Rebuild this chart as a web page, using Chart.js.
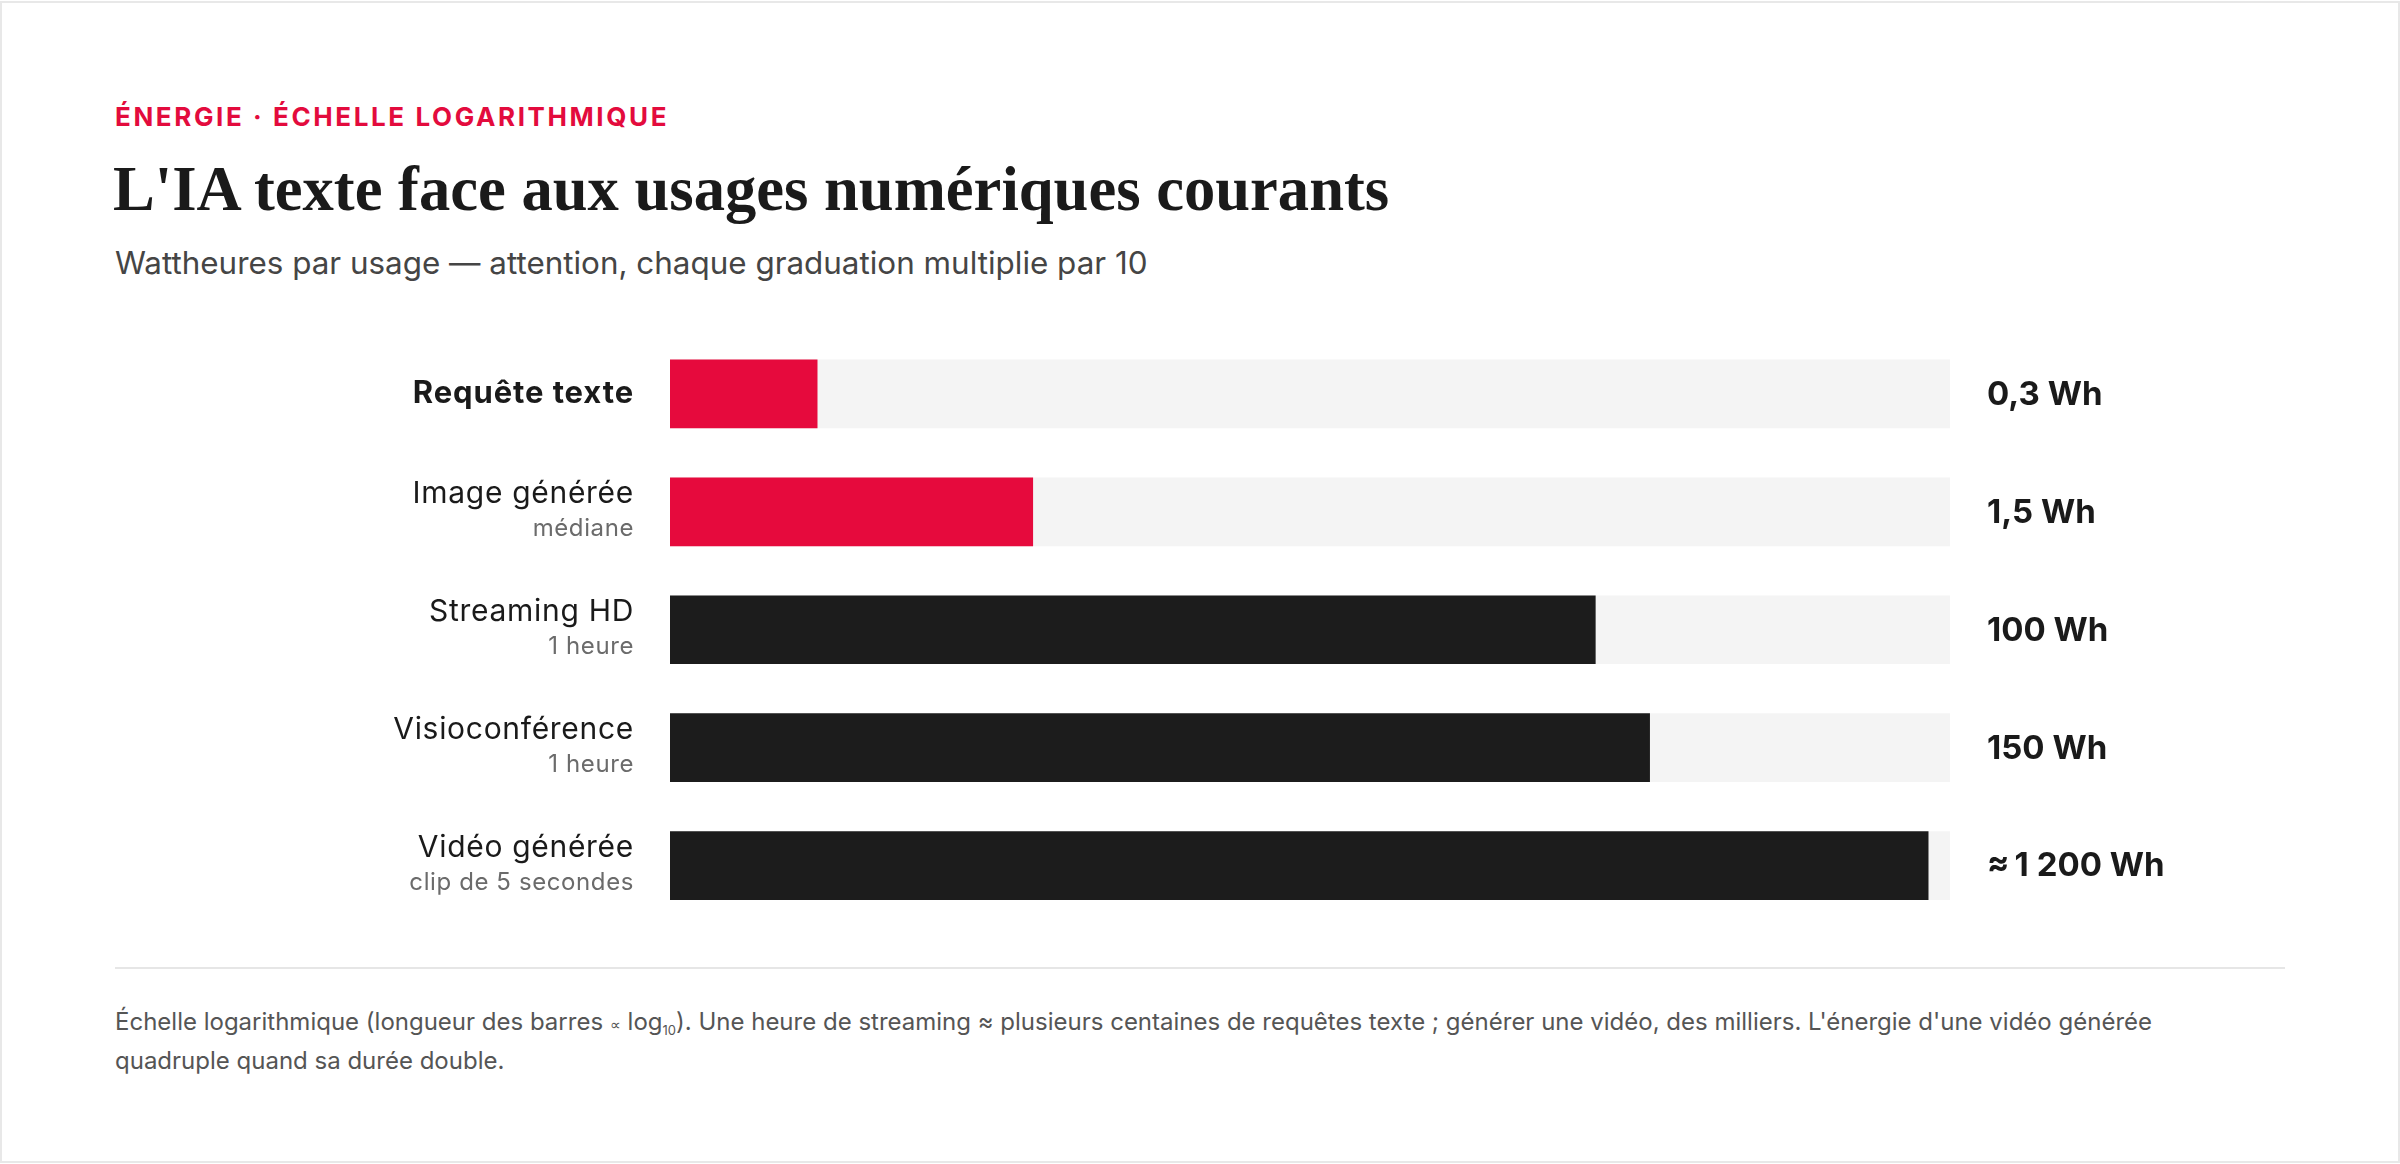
<!DOCTYPE html>
<html lang="fr">
<head>
<meta charset="utf-8">
<script src="https://cdn.jsdelivr.net/npm/chart.js@4/dist/chart.umd.min.js"></script>
<style>
  html, body { margin: 0; padding: 0; background: #fff; }
  body { width: 2400px; height: 1164px; position: relative; overflow: hidden; font-family: "Inter", "Noto Sans", sans-serif; }
  .card { position: absolute; left: 0; top: 1px; width: 2400px; height: 1162px; box-sizing: border-box; border: 2px solid #e8e8e8; }
  .eyebrow { position: absolute; left: 115px; top: 104px; font-size: 26px; line-height: 26px; font-weight: 700; letter-spacing: 2.6px; color: #e30b3d; white-space: nowrap; }
  .title { position: absolute; left: 113px; top: 158px; font-family: "Liberation Serif", "DejaVu Serif", serif; font-weight: 700; font-size: 62.6px; line-height: 63px; color: #1a1a1a; white-space: nowrap; }
  .subtitle { position: absolute; left: 115px; top: 246px; font-size: 31.4px; line-height: 34px; color: #454545; white-space: nowrap; }
  .chartbox { position: absolute; left: 0; top: 300px; width: 2400px; height: 660px; }
  .rule { position: absolute; left: 115px; top: 967px; width: 2170px; height: 2px; background: #e6e6e6; }
  .note { position: absolute; left: 115px; top: 1002px; width: 2180px; font-size: 24px; line-height: 39px; color: #555; }
  .note sub { font-size: 13px; line-height: 0; vertical-align: baseline; position: relative; top: 5px; }
  .note .prop { font-size: 15px; line-height: 0; }
</style>
</head>
<body>
<div class="card"></div>
<div class="eyebrow">ÉNERGIE · ÉCHELLE LOGARITHMIQUE</div>
<div class="title">L'IA texte face aux usages numériques courants</div>
<div class="subtitle">Wattheures par usage — attention, chaque graduation multiplie par 10</div>
<div class="chartbox"><canvas id="c"></canvas></div>
<div class="rule"></div>
<div class="note">Échelle logarithmique (longueur des barres <span class="prop">∝</span> log<sub>10</sub>). Une heure de streaming ≈ plusieurs centaines de requêtes texte ; générer une vidéo, des milliers. L'énergie d'une vidéo générée<br>quadruple quand sa durée double.</div>
<script>
// ---- Data ----
const categories = ['Requête texte', 'Image générée', 'Streaming HD', 'Visioconférence', 'Vidéo générée'];
const subLabels = ['', 'médiane', '1 heure', '1 heure', 'clip de 5 secondes'];
const energyWh = [0.3, 1.5, 100, 150, 1200];
const valueLabels = ['0,3 Wh', '1,5 Wh', '100 Wh', '150 Wh', '≈\u20091 200 Wh'];
const axisMinWh = 0.1;
const axisMaxWh = 1412.5;

// ---- Styles ----
const RED = '#e60a3d';
const INK = '#1c1c1c';
const TRACK = '#f4f4f4';
const FONT = 'Inter, "Noto Sans", sans-serif';

const labelPlugin = {
  id: 'rowLabels',
  afterDatasetsDraw(chart) {
    const ctx = chart.ctx;
    const y = chart.scales.y;
    const area = chart.chartArea;
    ctx.save();
    categories.forEach((name, i) => {
      const cy = y.getPixelForValue(i);
      ctx.textAlign = 'right';
      ctx.textBaseline = 'alphabetic';
      ctx.fillStyle = '#1a1a1a';
      const lx = area.left - 36;
      if (i === 0) {
        ctx.font = '700 31px ' + FONT;
        ctx.letterSpacing = '0.9px';
      } else {
        ctx.font = '400 30px ' + FONT;
        ctx.letterSpacing = '0.7px';
      }
      if (subLabels[i]) {
        ctx.fillText(name, lx, cy - 9);
        ctx.font = '400 24px ' + FONT;
        ctx.letterSpacing = '0.6px';
        ctx.fillStyle = '#6b6b6b';
        ctx.fillText(subLabels[i], lx, cy + 24);
      } else {
        ctx.textBaseline = 'middle';
        ctx.fillText(name, lx, cy);
      }
      ctx.letterSpacing = '0px';
      ctx.textAlign = 'left';
      ctx.textBaseline = 'middle';
      ctx.fillStyle = '#1a1a1a';
      ctx.font = '700 33px ' + FONT;
      ctx.fillText(valueLabels[i], area.right + 37, cy + 1);
    });
    ctx.restore();
  }
};

new Chart(document.getElementById('c'), {
  type: 'bar',
  data: {
    labels: categories,
    datasets: [
      {
        data: energyWh,
        backgroundColor: (c) => (c.dataIndex < 2 ? RED : INK),
        barThickness: 68,
        grouped: false,
        order: 0
      },
      {
        data: categories.map(() => axisMaxWh),
        backgroundColor: TRACK,
        barThickness: 68,
        grouped: false,
        order: 1
      }
    ]
  },
  options: {
    indexAxis: 'y',
    responsive: true,
    maintainAspectRatio: false,
    animation: false,
    layout: { padding: { left: 670, right: 450, top: 35, bottom: 35.5 } },
    scales: {
      x: { type: 'logarithmic', min: axisMinWh, max: axisMaxWh, display: false },
      y: { display: false }
    },
    plugins: { legend: { display: false }, tooltip: { enabled: false } }
  },
  plugins: [labelPlugin]
});
</script>
</body>
</html>
